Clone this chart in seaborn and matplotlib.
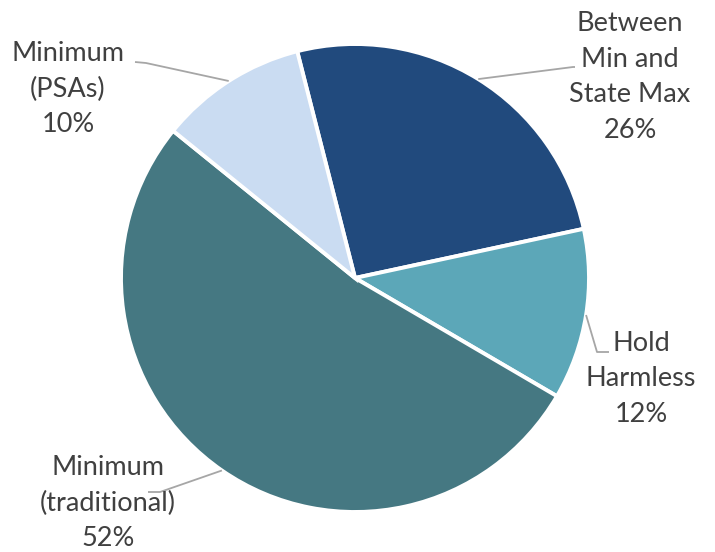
import numpy as np
import matplotlib
matplotlib.use("Agg")
import matplotlib.pyplot as plt
import seaborn as sns

categories = ["Between\nMin and\nState Max", "Hold\nHarmless", "Minimum\n(traditional)", "Minimum\n(PSAs)"]
shares = [25.6, 11.8, 52.4, 10.2]
colors = ["#214A7D", "#5CA7B8", "#457882", "#CADCF2"]

sns.set_theme(style="white")
plt.rcParams['font.family'] = ['Lato', 'DejaVu Sans']

W, H = 715, 552
fig = plt.figure(figsize=(W / 100, H / 100), dpi=100)
ax = fig.add_axes([0, 0, 1, 1])

cx, cy, r = 355, H - 278, 234
wedges, _ = ax.pie(shares, colors=colors, startangle=104.3, counterclock=False,
                   center=(cx, cy), radius=r, frame=True,
                   wedgeprops=dict(edgecolor='white', linewidth=2.8))
ax.set_xlim(0, W)
ax.set_ylim(0, H)
ax.set_aspect('equal')
ax.axis('off')

# label layout: text block center (px, from top) and elbow points
label_pos = [(630, 77), (641, 379), (108, 503), (68, 89)]
elbows = [[(575, 67), (573, 67)], [(609, 352), (597, 352)], [(148, 492), (160, 492)], [(135, 62), (146, 63)]]

for w, lab, s, pos, elb in zip(wedges, categories, shares, label_pos, elbows):
    th = np.deg2rad(0.5 * (w.theta1 + w.theta2))
    ax_pt = (cx + r * np.cos(th), cy + r * np.sin(th))
    xs = [p[0] for p in elb] + [ax_pt[0]]
    ys = [H - p[1] for p in elb] + [ax_pt[1]]
    ax.plot(xs, ys, color='#A6A6A6', lw=1.3, solid_capstyle='butt')
    ax.text(pos[0], H - pos[1], f"{lab}\n{round(s)}%", ha='center', va='center',
            fontsize=19.5, color='#404040', linespacing=1.52)

fig.savefig("out.png", dpi=100, facecolor='white')
